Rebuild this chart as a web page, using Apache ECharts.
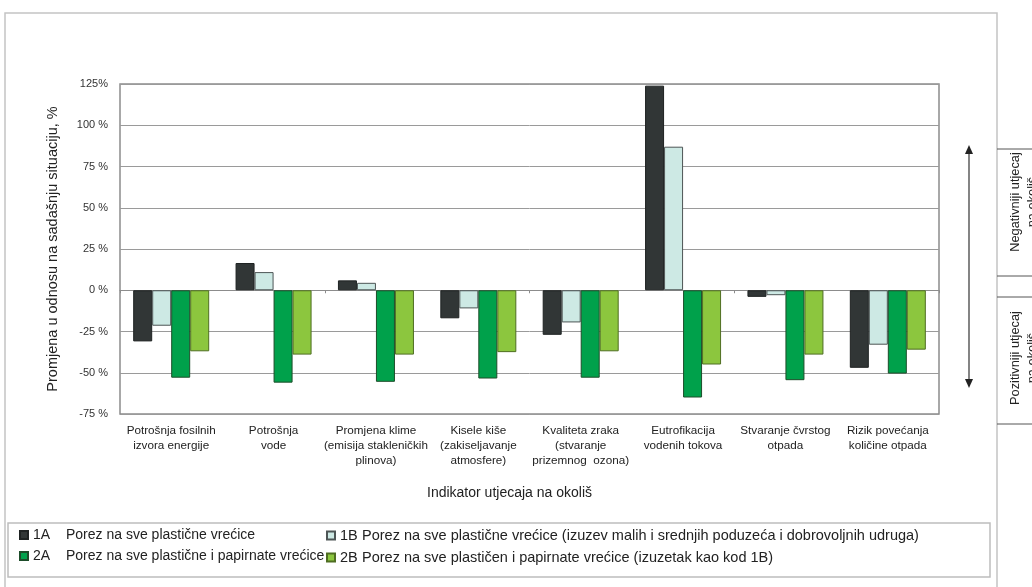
<!DOCTYPE html>
<html>
<head>
<meta charset="utf-8">
<script src="https://cdn.jsdelivr.net/npm/echarts@6/dist/echarts.min.js"></script>
<style>
  html, body { margin: 0; padding: 0; background: #fff; }
  #chart { width: 1032px; height: 587px; }
</style>
</head>
<body>
<div id="chart"></div>
<script>
// kategorije (indikatori)
const categories = [
  "Potrošnja fosilnih\nizvora energije",
  "Potrošnja\nvode",
  "Promjena klime\n(emisija stakleničkih\nplinova)",
  "Kisele kiše\n(zakiseljavanje\natmosfere)",
  "Kvaliteta zraka\n(stvaranje\nprizemnog  ozona)",
  "Eutrofikacija\nvodenih tokova",
  "Stvaranje čvrstog\notpada",
  "Rizik povećanja\nkoličine otpada"
];

const seriesNames = ["1A", "1B", "2A", "2B"];
const seriesDesc = {
  "1A": "Porez na sve plastične vrećice",
  "1B": "Porez na sve plastične vrećice (izuzev malih i srednjih poduzeća i dobrovoljnih udruga)",
  "2A": "Porez na sve plastične i papirnate vrećice",
  "2B": "Porez na sve plastičen i papirnate vrećice (izuzetak kao kod 1B)"
};

const values1A = [-31, 16.5, 6, -17, -27, 124, -4, -47];
const values1B = [-21.5, 11, 4.5, -11, -19.5, 87, -3, -33];
const values2A = [-53, -56, -55.5, -53.5, -53, -65, -54.5, -50.5];
const values2B = [-37, -39, -39, -37.5, -37, -45, -39, -36];

const yTickLabels = ["-75 %", "-50 %", "-25 %", "0 %", "25 %", "50 %", "75 %", "100 %", "125%"];

const FONT = "'Liberation Sans', Arial, sans-serif";

const colors = {
  "1A": { color: "#313636", borderColor: "#1e2222" },
  "1B": { color: "#cde9e4", borderColor: "#4d5555" },
  "2A": { color: "#00a14b", borderColor: "#1d4d2a" },
  "2B": { color: "#8cc63e", borderColor: "#4f6e22" }
};
const dataMap = { "1A": values1A, "1B": values1B, "2A": values2A, "2B": values2B };

var chartDom = document.getElementById("chart");
var myChart = echarts.init(chartDom);

const legendFormatter = (name) => "{c|" + name + "}{d|" + seriesDesc[name] + "}";

const legendText = (codeWidth, size) => ({
  fontSize: size,
  color: "#222",
  rich: {
    c: { width: codeWidth, fontSize: size, lineHeight: 16, color: "#222", fontFamily: FONT },
    d: { fontSize: size, lineHeight: 16, color: "#222", fontFamily: FONT }
  }
});

var option = {
  animation: false,
  textStyle: { fontFamily: FONT },
  grid: {
    left: 120,
    right: 93,
    top: 84,
    bottom: 173,
    show: true,
    borderColor: "#8c8c8c",
    borderWidth: 1.5,
    backgroundColor: "transparent"
  },
  legend: [
    {
      data: ["1A", "2A"],
      orient: "vertical",
      left: 19,
      top: 528,
      padding: 0,
      icon: "rect",
      itemWidth: 8,
      itemHeight: 8,
      itemGap: 7,
      formatter: legendFormatter,
      textStyle: legendText(33, 14)
    },
    {
      data: ["1B", "2B"],
      orient: "vertical",
      left: 326,
      top: 528,
      padding: 0,
      icon: "rect",
      itemWidth: 8,
      itemHeight: 8,
      itemGap: 7,
      formatter: legendFormatter,
      textStyle: legendText(22, 14.5)
    }
  ],
  xAxis: [
    {
      type: "category",
      data: categories,
      position: "bottom",
      axisLine: { show: false, onZero: false },
      axisTick: { show: false },
      axisLabel: {
        interval: 0,
        margin: 9,
        fontSize: 11.7,
        lineHeight: 15,
        color: "#222",
        fontFamily: FONT
      },
      name: "Indikator utjecaja na okoliš",
      nameLocation: "middle",
      nameGap: 72,
      nameTextStyle: {
        fontSize: 14,
        color: "#222",
        fontFamily: FONT,
        padding: [0, 40, 0, 0]
      }
    },
    {
      type: "category",
      data: categories,
      position: "bottom",
      axisLine: { show: true, onZero: true, lineStyle: { color: "#8c8c8c", width: 1 } },
      axisTick: { show: true, length: 3, lineStyle: { color: "#8c8c8c" } },
      axisLabel: { show: false }
    }
  ],
  yAxis: {
    type: "value",
    min: -75,
    max: 125,
    interval: 25,
    axisLine: { show: false },
    axisTick: { show: false },
    splitLine: { lineStyle: { color: "#9a9a9a", width: 1 } },
    axisLabel: {
      margin: 12,
      fontSize: 11,
      color: "#333",
      fontFamily: FONT,
      formatter: (v) => yTickLabels[Math.round((v + 75) / 25)]
    },
    name: "Promjena u odnosu na sadašnju situaciju, %",
    nameLocation: "middle",
    nameGap: 60,
    nameTextStyle: { fontSize: 14.5, color: "#222", fontFamily: FONT }
  },
  series: seriesNames.map((n) => ({
    name: n,
    type: "bar",
    xAxisIndex: 0,
    data: dataMap[n],
    barWidth: 19,
    barGap: "0%",
    itemStyle: {
      color: colors[n].color,
      borderColor: colors[n].borderColor,
      borderWidth: 1
    }
  })),
  graphic: [
    // vanjski okvir
    {
      type: "rect",
      shape: { x: 5, y: 13, width: 992, height: 600 },
      style: { fill: "none", stroke: "#c4c4c4", lineWidth: 1.5 },
      silent: true
    },
    // okvir legende
    {
      type: "rect",
      shape: { x: 8, y: 523, width: 982, height: 54 },
      style: { fill: "none", stroke: "#bdbdbd", lineWidth: 1.5 },
      silent: true
    },
    // strelica
    {
      type: "line",
      shape: { x1: 969, y1: 150, x2: 969, y2: 383 },
      style: { stroke: "#333", lineWidth: 1.2 },
      silent: true
    },
    {
      type: "polygon",
      shape: { points: [[969, 145], [965, 154], [973, 154]] },
      style: { fill: "#222" },
      silent: true
    },
    {
      type: "polygon",
      shape: { points: [[969, 388], [965, 379], [973, 379]] },
      style: { fill: "#222" },
      silent: true
    },
    // desni okvir s natpisima
    { type: "line", shape: { x1: 997, y1: 149, x2: 1032, y2: 149 }, style: { stroke: "#555", lineWidth: 1 }, silent: true },
    { type: "line", shape: { x1: 997, y1: 276, x2: 1032, y2: 276 }, style: { stroke: "#555", lineWidth: 1 }, silent: true },
    { type: "line", shape: { x1: 997, y1: 297, x2: 1032, y2: 297 }, style: { stroke: "#555", lineWidth: 1 }, silent: true },
    { type: "line", shape: { x1: 997, y1: 424, x2: 1032, y2: 424 }, style: { stroke: "#555", lineWidth: 1 }, silent: true },
    {
      type: "text",
      x: 1024,
      y: 202,
      rotation: Math.PI / 2,
      style: {
        text: "Negativniji utjecaj\nna okoliš",
        fontSize: 12.8,
        lineHeight: 17,
        fontFamily: FONT,
        fill: "#222",
        align: "center",
        verticalAlign: "middle"
      },
      silent: true
    },
    {
      type: "text",
      x: 1024,
      y: 358,
      rotation: Math.PI / 2,
      style: {
        text: "Pozitivniji utjecaj\nna okoliš",
        fontSize: 12.8,
        lineHeight: 17,
        fontFamily: FONT,
        fill: "#222",
        align: "center",
        verticalAlign: "middle"
      },
      silent: true
    }
  ]
};

option && myChart.setOption(option);
</script>
</body>
</html>
